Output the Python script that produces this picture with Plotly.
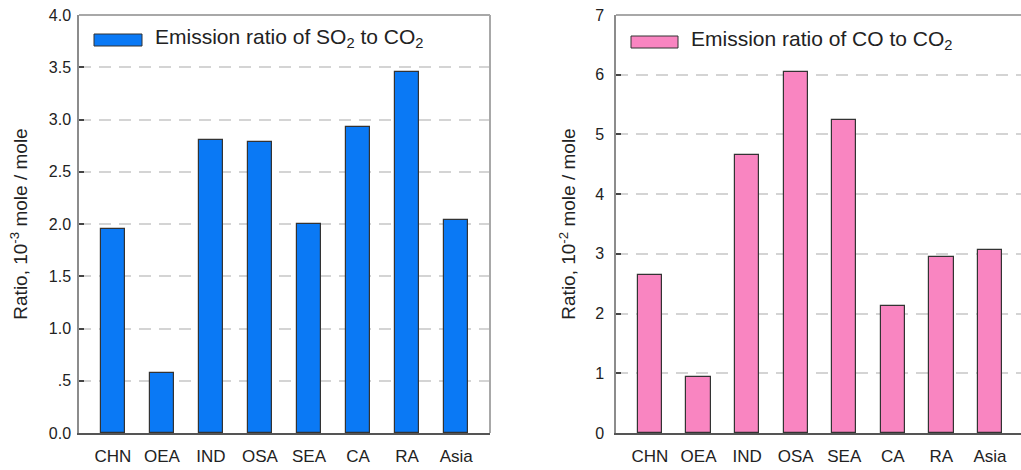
import plotly.graph_objects as go

categories = ["CHN", "OEA", "IND", "OSA", "SEA", "CA", "RA", "Asia"]
so2_ratio = [1.95, 0.57, 2.80, 2.78, 2.00, 2.93, 3.45, 2.04]
co_ratio = [2.65, 0.94, 4.65, 6.05, 5.24, 2.12, 2.95, 3.06]

left_tickvals = [0, 0.5, 1.0, 1.5, 2.0, 2.5, 3.0, 3.5, 4.0]
left_ticktext = ["0.0", ".5", "1.0", "1.5", "2.0", "2.5", "3.0", "3.5", "4.0"]
right_tickvals = [0, 1, 2, 3, 4, 5, 6, 7]
right_ticktext = ["0", "1", "2", "3", "4", "5", "6", "7"]

BLUE = "#0A79F5"
PINK = "#F985C1"
FONT = "Liberation Sans, Arial, sans-serif"
W, H = 1021, 470

x_idx = list(range(len(categories)))

fig = go.Figure()
fig.add_trace(go.Bar(x=x_idx, y=so2_ratio, width=0.5, marker=dict(color=BLUE, line=dict(color="#333333", width=1.2)),
                     xaxis="x", yaxis="y", showlegend=False))
fig.add_trace(go.Bar(x=x_idx, y=co_ratio, width=0.5, marker=dict(color=PINK, line=dict(color="#333333", width=1.2)),
                     xaxis="x2", yaxis="y2", showlegend=False))

def px_x(p):
    return p / W

def px_y(p):
    return 1 - p / H

dom_y = [px_y(433), px_y(15)]
grid = dict(showgrid=True, gridcolor="#d4d4d4", gridwidth=1.5, griddash="12px,8px")
tickfont = dict(family=FONT, size=16, color="#222222")
xtickfont = dict(family=FONT, size=17, color="#222222")
titlefont = dict(family=FONT, size=19, color="#222222")

fig.update_layout(
    width=W, height=H, margin=dict(l=0, r=0, t=0, b=0),
    paper_bgcolor="white", plot_bgcolor="white", bargap=0,
    font=dict(family=FONT, color="#222222"),
    xaxis=dict(domain=[px_x(79), px_x(490)], range=[-0.69, 7.69], tickvals=x_idx, ticktext=categories,
               showgrid=False, zeroline=False, showline=True, linecolor="#555555", linewidth=1.5,
               ticks="", tickfont=xtickfont, ticklabelstandoff=7, anchor="y", automargin=False),
    yaxis=dict(domain=dom_y, range=[0, 4.0], tickvals=left_tickvals, ticktext=left_ticktext,
               zeroline=False, showline=True, linecolor="#8c8c8c", linewidth=1.5,
               ticks="inside", ticklen=5, tickcolor="#444444", tickwidth=1.5, tickfont=tickfont,
               ticklabelstandoff=3,
               title=dict(text="Ratio, 10<sup>-3</sup> mole / mole", font=titlefont, standoff=16),
               anchor="x", automargin=False, **grid),
    xaxis2=dict(domain=[px_x(616), 1.0], range=[-0.70, 7.64], tickvals=x_idx, ticktext=categories,
                showgrid=False, zeroline=False, showline=True, linecolor="#555555", linewidth=1.5,
                ticks="", tickfont=xtickfont, ticklabelstandoff=7, anchor="y2", automargin=False),
    yaxis2=dict(domain=dom_y, range=[0, 7], tickvals=right_tickvals, ticktext=right_ticktext,
                zeroline=False, showline=True, linecolor="#8c8c8c", linewidth=1.5,
                ticks="inside", ticklen=5, tickcolor="#444444", tickwidth=1.5, tickfont=tickfont,
                ticklabelstandoff=7,
                title=dict(text="Ratio, 10<sup>-2</sup> mole / mole", font=titlefont, standoff=14),
                anchor="x2", automargin=False, **grid),
)

shapes = [
    # frame lines (top / right)
    dict(type="line", xref="paper", yref="paper", x0=px_x(79), x1=px_x(490), y0=px_y(15), y1=px_y(15),
         line=dict(color="#a8a8a8", width=2)),
    dict(type="line", xref="paper", yref="paper", x0=px_x(490), x1=px_x(490), y0=px_y(15), y1=px_y(433),
         line=dict(color="#a8a8a8", width=2)),
    dict(type="line", xref="paper", yref="paper", x0=px_x(616), x1=1.0, y0=px_y(15), y1=px_y(15),
         line=dict(color="#a8a8a8", width=2)),
    # legend swatches
    dict(type="rect", xref="paper", yref="paper", x0=px_x(94), x1=px_x(142), y0=px_y(46), y1=px_y(34),
         fillcolor=BLUE, line=dict(color="#333333", width=1)),
    dict(type="rect", xref="paper", yref="paper", x0=px_x(631), x1=px_x(678), y0=px_y(48), y1=px_y(36),
         fillcolor=PINK, line=dict(color="#333333", width=1)),
]
fig.update_layout(shapes=shapes)

fig.add_annotation(xref="paper", yref="paper", x=px_x(153), y=px_y(38), xanchor="left", yanchor="middle",
                   text="Emission ratio of SO<sub>2</sub> to CO<sub>2</sub>", showarrow=False,
                   font=dict(family=FONT, size=21, color="#222222"))
fig.add_annotation(xref="paper", yref="paper", x=px_x(689), y=px_y(40), xanchor="left", yanchor="middle",
                   text="Emission ratio of CO to CO<sub>2</sub>", showarrow=False,
                   font=dict(family=FONT, size=21, color="#222222"))

fig.write_html("out.html")
